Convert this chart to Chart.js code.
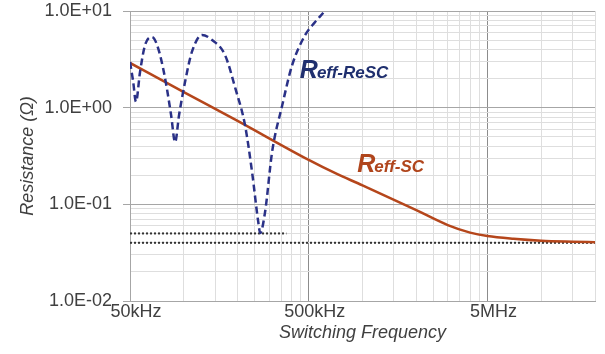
<!DOCTYPE html>
<html>
<head>
<meta charset="utf-8">
<script src="https://cdn.jsdelivr.net/npm/chart.js@4/dist/chart.umd.min.js"></script>
<style>
  html, body { margin: 0; padding: 0; background: #fff; }
  #wrap { width: 605px; height: 354px; }
</style>
</head>
<body>
<div id="wrap"><canvas id="resChart" width="605" height="354"></canvas></div>
<script>
// Frequências (Hz) e resistências (Ω)
const freqReSC = [50000, 52000, 54000, 56900, 60700, 66400, 71800, 78500, 84900, 89400,
    94100, 101600, 111000, 126500, 144000, 170000, 194000, 220000, 241000, 261000,
    267700, 285000, 312000, 356000, 404000, 478000, 543000, 618000, 660000];
const rReSC = [2.97, 1.9, 1.15, 2.34, 4.45, 5.38, 4.14, 2.03, 0.84, 0.44,
    0.84, 1.84, 3.77, 5.65, 5.01, 3.51, 1.60, 0.662, 0.216, 0.0658,
    0.0506, 0.0834, 0.348, 1.07, 2.76, 5.65, 7.7, 10.2, 12.5];

const freqSC = [50000, 100000, 200000, 500000, 700000, 1000000, 2000000, 3000000,
    4000000, 5000000, 7000000, 10000000, 15000000, 20000000];
const rSC = [2.9, 1.45, 0.73, 0.288, 0.211, 0.157, 0.087, 0.061,
    0.051, 0.047, 0.044, 0.042, 0.041, 0.0405];

// Linhas de referência pontilhadas
const freqRef1 = [50000, 375000];
const rRef1 = [0.05, 0.05];
const freqRef2 = [50000, 20000000];
const rRef2 = [0.04, 0.04];

// Marcas do eixo X (múltiplos de 50kHz) e rótulos exibidos
const xTicks = [];
[50000, 500000, 5000000].forEach(base => {
    for (let k = 1; k <= 10; k++) {
        const v = base * k;
        if (v <= 20000000 && !xTicks.includes(v)) xTicks.push(v);
    }
});
const xLabels = { 50000: '50kHz', 500000: '500kHz', 5000000: '5MHz' };

// Marcas do eixo Y (1..9 x 10^n)
const yTicks = [];
[0.01, 0.1, 1].forEach(base => {
    for (let k = 1; k <= 9; k++) yTicks.push(+(base * k).toPrecision(3));
});
yTicks.push(10);

// Posição dos rótulos das curvas (em coordenadas de dados)
const labelReSC = { f: 446000, r: 2.03, main: 'R', sub: 'eff-ReSC', color: '#1f2f6e' };
const labelSC = { f: 935000, r: 0.216, main: 'R', sub: 'eff-SC', color: '#b0451c' };

function isDecade(v) {
    const e = Math.log10(v);
    return Math.abs(e - Math.round(e)) < 1e-6;
}

function fmtExp(v) {
    const e = Math.round(Math.log10(v));
    return '1.0E' + (e < 0 ? '-' : '+') + String(Math.abs(e)).padStart(2, '0');
}

const toXY = (fs, rs) => fs.map((f, i) => ({ x: f, y: rs[i] }));

// Desenha os nomes das curvas ao lado delas
const curveLabels = {
    id: 'curveLabels',
    afterDatasetsDraw(chart) {
        const { ctx, scales } = chart;
        [labelReSC, labelSC].forEach(l => {
            const x = scales.x.getPixelForValue(l.f);
            const y = scales.y.getPixelForValue(l.r);
            ctx.save();
            ctx.fillStyle = l.color;
            ctx.textBaseline = 'alphabetic';
            ctx.font = 'italic bold 25px "Liberation Sans", Arial, sans-serif';
            ctx.fillText(l.main, x, y);
            const w = ctx.measureText(l.main).width;
            ctx.font = 'italic bold 17px "Liberation Sans", Arial, sans-serif';
            ctx.fillText(l.sub, x + w - 1, y);
            ctx.restore();
        });
    }
};

const ctx = document.getElementById('resChart');
const tickFont = { family: '"Liberation Sans", Arial, sans-serif', size: 18 };

new Chart(ctx.getContext('2d'), {
    type: 'line',
    data: {
        datasets: [
            {
                label: 'Reff-ReSC',
                data: toXY(freqReSC, rReSC),
                borderColor: '#2a3187',
                borderWidth: 2.5,
                borderDash: [7, 4],
                pointRadius: 0,
                cubicInterpolationMode: 'monotone'
            },
            {
                label: 'Reff-SC',
                data: toXY(freqSC, rSC),
                borderColor: '#b5461b',
                borderWidth: 2.5,
                pointRadius: 0,
                cubicInterpolationMode: 'monotone'
            },
            {
                label: 'ref1',
                data: toXY(freqRef1, rRef1),
                borderColor: '#333',
                borderWidth: 2,
                borderDash: [2, 2],
                pointRadius: 0
            },
            {
                label: 'ref2',
                data: toXY(freqRef2, rRef2),
                borderColor: '#333',
                borderWidth: 2,
                borderDash: [2, 2],
                pointRadius: 0
            }
        ]
    },
    options: {
        responsive: false,
        animation: false,
        layout: { padding: { top: 11, right: 10, left: 0, bottom: 0 } },
        plugins: { legend: { display: false }, tooltip: { enabled: false } },
        scales: {
            x: {
                type: 'logarithmic',
                min: 50000,
                max: 20000000,
                afterBuildTicks: s => { s.ticks = xTicks.map(v => ({ value: v })); },
                afterFit: s => { s.height = 53; s.paddingLeft = 0; s.paddingRight = 0; },
                border: { color: '#a6a6a6' },
                grid: {
                    drawTicks: false,
                    color: c => (c.tick && xLabels[c.tick.value] && c.tick.value !== 50000) ? '#8c8c8c' : '#dedede'
                },
                ticks: {
                    autoSkip: false,
                    maxRotation: 0,
                    padding: 0,
                    labelOffset: 6,
                    color: '#404040',
                    font: tickFont,
                    callback: v => xLabels[v] || ''
                },
                title: {
                    display: true,
                    text: 'Switching Frequency',
                    color: '#404040',
                    font: { family: tickFont.family, size: 18, style: 'italic' },
                    padding: { top: 0, bottom: 10 }
                }
            },
            y: {
                type: 'logarithmic',
                min: 0.01,
                max: 10,
                afterBuildTicks: s => { s.ticks = yTicks.map(v => ({ value: v })); },
                afterFit: s => { s.width = 130; s.paddingTop = 0; s.paddingBottom = 0; },
                border: { color: '#a6a6a6' },
                grid: {
                    tickLength: 7,
                    color: c => (c.tick && isDecade(c.tick.value)) ? '#a6a6a6' : '#dedede',
                    tickColor: c => (c.tick && isDecade(c.tick.value)) ? '#a6a6a6' : 'rgba(0,0,0,0)'
                },
                ticks: {
                    autoSkip: false,
                    padding: 11,
                    color: '#404040',
                    font: tickFont,
                    callback: v => isDecade(v) ? fmtExp(v) : ''
                },
                title: {
                    display: true,
                    text: 'Resistance (Ω)',
                    color: '#404040',
                    font: { family: tickFont.family, size: 18, style: 'italic' },
                    padding: { top: 17, bottom: 0 }
                }
            }
        }
    },
    plugins: [curveLabels]
});
</script>
</body>
</html>
